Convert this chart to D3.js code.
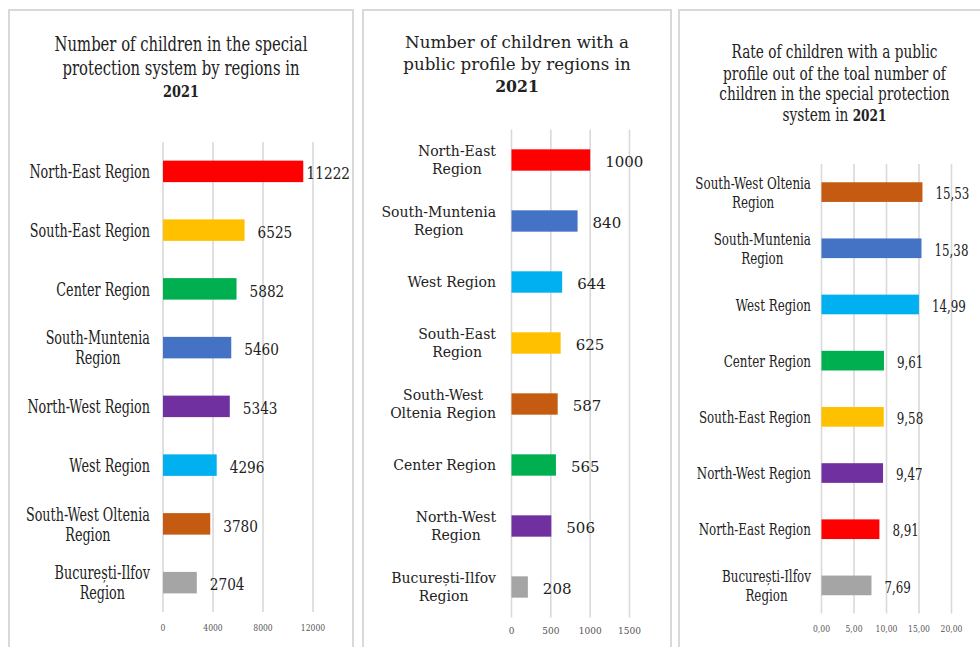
<!DOCTYPE html>
<html>
<head>
<meta charset="utf-8">
<script src="https://cdn.jsdelivr.net/npm/d3@7"></script>
<style>
  html, body { margin: 0; padding: 0; background: #fff; }
  svg { display: block; }
</style>
</head>
<body>
<svg id="chart" width="980" height="647"></svg>
<script>
// ---- data -------------------------------------------------------------
const totalRegions = ["North-East Region", "South-East Region", "Center Region",
  "South-Muntenia\nRegion", "North-West Region", "West Region",
  "South-West Oltenia\nRegion", "București-Ilfov\nRegion"];
const totalValues = [11222, 6525, 5882, 5460, 5343, 4296, 3780, 2704];
const totalTicks = [0, 4000, 8000, 12000];

const publicRegions = ["North-East\nRegion", "South-Muntenia\nRegion", "West Region",
  "South-East\nRegion", "South-West\nOltenia Region", "Center Region",
  "North-West\nRegion", "București-Ilfov\nRegion"];
const publicValues = [1000, 840, 644, 625, 587, 565, 506, 208];
const publicTicks = [0, 500, 1000, 1500];

const rateRegions = ["South-West Oltenia\nRegion", "South-Muntenia\nRegion", "West Region",
  "Center Region", "South-East Region", "North-West Region", "North-East Region",
  "București-Ilfov\nRegion"];
const rateValues = [15.53, 15.38, 14.99, 9.61, 9.58, 9.47, 8.91, 7.69];
const rateTicks = [0, 5, 10, 15, 20];

// colour of each region, the same in all three charts
const regionColors = {
  "North-East Region": "#ff0000",
  "South-East Region": "#ffc000",
  "Center Region": "#00b050",
  "South-Muntenia Region": "#4472c4",
  "North-West Region": "#7030a0",
  "West Region": "#00b0f0",
  "South-West Oltenia Region": "#c55a11",
  "București-Ilfov Region": "#a5a5a5"
};

// ---- drawing ------------------------------------------------------------
const svg = d3.select("#chart");
const FONT = "'DejaVu Serif', Georgia, serif";
const commaFmt = d => d3.format(".2f")(d).replace(".", ",");

// text placed at (x, y) and optionally condensed horizontally
function squeezedText(g, x, y, s) {
  return g.append("text")
    .attr("transform", `translate(${x},${y}) scale(${s},1)`)
    .attr("font-family", FONT)
    .attr("fill", "#222");
}

function drawPanel(cfg) {
  const g = svg.append("g");

  // frame
  g.append("rect")
    .attr("x", cfg.frame[0]).attr("y", cfg.frame[1])
    .attr("width", cfg.frame[2] - cfg.frame[0]).attr("height", 700)
    .attr("fill", "#fff").attr("stroke", "#d9d9d9").attr("stroke-width", 2);

  // title
  cfg.title.forEach((line, i) => {
    const t = squeezedText(g, cfg.titleX, cfg.titleY[i], cfg.titleSqueeze)
      .attr("text-anchor", "middle").attr("font-size", cfg.titleSize);
    line.forEach(part => {
      t.append("tspan").text(part.t)
        .attr("font-weight", part.b ? "bold" : "normal")
        .attr("font-size", part.b ? cfg.yearSize : cfg.titleSize);
    });
  });

  const x = d3.scaleLinear().domain(cfg.domain).range(cfg.xRange);
  const y = d3.scaleBand().domain(cfg.regions).range(cfg.yRange)
    .paddingInner(cfg.pad).paddingOuter(cfg.pad / 2);

  // vertical grid lines
  g.append("g").selectAll("line").data(cfg.ticks).join("line")
    .attr("x1", d => x(d)).attr("x2", d => x(d))
    .attr("y1", cfg.yRange[0]).attr("y2", cfg.yRange[1])
    .attr("stroke", "#d9d9d9").attr("stroke-width", 1.6);

  // tick labels
  cfg.ticks.forEach(d => {
    squeezedText(g, x(d), cfg.tickY, cfg.tickSqueeze)
      .attr("text-anchor", "middle").attr("font-size", cfg.tickSize)
      .attr("fill", "#555")
      .text(cfg.tickFmt(d));
  });

  const data = cfg.regions.map((r, i) => ({ r, v: cfg.values[i] }));

  // bars
  g.append("g").selectAll("rect").data(data).join("rect")
    .attr("x", x(0)).attr("y", d => y(d.r))
    .attr("width", d => x(d.v) - x(0)).attr("height", y.bandwidth())
    .attr("fill", d => regionColors[d.r.replace("\n", " ")]);

  // category labels: centred lines, block right-aligned
  data.forEach(d => {
    const lines = d.r.split("\n");
    const c = y(d.r) + y.bandwidth() / 2;
    const tmp = lines.map(l => {
      const t = g.append("text").attr("font-family", FONT)
        .attr("font-size", cfg.catSize).text(l);
      const w = t.node().getComputedTextLength();
      t.remove();
      return w;
    });
    const blockW = d3.max(tmp) * cfg.catSqueeze;
    const cx = cfg.labelRight - blockW / 2;
    lines.forEach((l, i) => {
      squeezedText(g, cx, c + (i - (lines.length - 1) / 2) * cfg.catLine, cfg.catSqueeze)
        .attr("text-anchor", "middle").attr("dy", "0.36em")
        .attr("font-size", cfg.catSize).text(l);
    });
  });

  // value labels next to each bar, kept inside the frame
  data.forEach(d => {
    const t = squeezedText(g, 0, 0, cfg.valSqueeze)
      .attr("font-size", cfg.valSize).attr("dy", "0.38em")
      .text(cfg.valFmt(d.v));
    const w = t.node().getComputedTextLength() * cfg.valSqueeze;
    const lx = Math.min(x(d.v) + cfg.valGap, cfg.valMax - w);
    t.attr("transform", `translate(${lx},${y(d.r) + y.bandwidth() / 2 + 1}) scale(${cfg.valSqueeze},1)`);
  });
}

drawPanel({
  frame: [9, 10, 353],
  title: [[{ t: "Number of children in the special" }],
          [{ t: "protection system by regions in" }],
          [{ t: "2021", b: true }]],
  titleX: 181, titleY: [51, 75, 97], titleSize: 19.5, yearSize: 17, titleSqueeze: 0.76,
  regions: totalRegions, values: totalValues, ticks: totalTicks,
  domain: [0, 12000], xRange: [163, 313], yRange: [142, 612], pad: 0.634,
  tickY: 631, tickSize: 9, tickSqueeze: 0.85, tickFmt: d => d,
  labelRight: 150, catSize: 18.5, catSqueeze: 0.69, catLine: 20,
  valSize: 17.5, valSqueeze: 0.78, valGap: 13, valMax: 350, valFmt: d => d
});

drawPanel({
  frame: [363, 10, 671],
  title: [[{ t: "Number of children with a" }],
          [{ t: "public profile by regions in" }],
          [{ t: "2021", b: true }]],
  titleX: 517, titleY: [48, 70, 92], titleSize: 17, yearSize: 16, titleSqueeze: 0.98,
  regions: publicRegions, values: publicValues, ticks: publicTicks,
  domain: [0, 1500], xRange: [511.5, 629.5], yRange: [129.5, 617.5], pad: 0.65,
  tickY: 634, tickSize: 9, tickSqueeze: 1, tickFmt: d => d,
  labelRight: 496, catSize: 14, catSqueeze: 1, catLine: 18,
  valSize: 15, valSqueeze: 1, valGap: 15, valMax: 668, valFmt: d => d
});

drawPanel({
  frame: [679, 10, 995],
  title: [[{ t: "Rate of children with a public" }],
          [{ t: "profile out of the toal number of" }],
          [{ t: "children in the special protection" }],
          [{ t: "system in " }, { t: "2021", b: true }]],
  titleX: 834.5, titleY: [58, 80, 100, 121], titleSize: 18, yearSize: 16, titleSqueeze: 0.76,
  regions: rateRegions, values: rateValues, ticks: rateTicks,
  domain: [0, 20], xRange: [821.5, 951.5], yRange: [164, 613.5], pad: 0.65,
  tickY: 632, tickSize: 9, tickSqueeze: 0.85, tickFmt: commaFmt,
  labelRight: 811, catSize: 17, catSqueeze: 0.70, catLine: 19,
  valSize: 16.5, valSqueeze: 0.72, valGap: 13, valMax: 978, valFmt: commaFmt
});
</script>
</body>
</html>
